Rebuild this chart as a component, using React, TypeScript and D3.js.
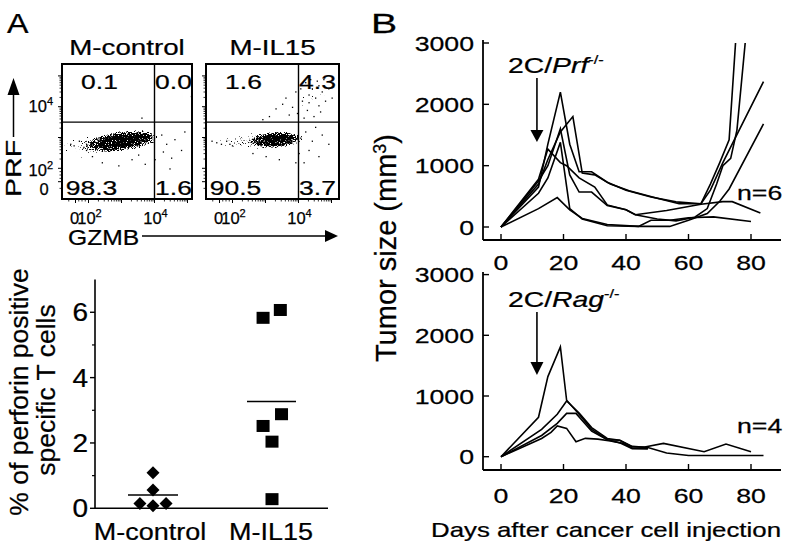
import React from 'react';
import * as d3 from 'd3';

const FONT = '"Liberation Sans", Arial, Helvetica, sans-serif';

// ---------- Panel A: flow cytometry ----------
const flowTitles = ['M-control', 'M-IL15'];
// quadrant percentages: UL, UR, LL, LR
const flowQuadrants = [
  ['0.1', '0.0', '98.3', '1.6'],
  ['1.6', '4.3', '90.5', '3.7'],
];
const gateGzmb = 4; // decade units
const gatePrf = 3.5;
// dense populations: centre (decade units), radii (decade units), tilt, weight
const ctrlClusters = [
  { gx: 3.1, gy: 2.9, rx: 1.2, ry: 0.33, tilt: -8, w: 1 },
  { gx: 2.3, gy: 2.78, rx: 1.8, ry: 0.48, tilt: -6, w: 0.64 },
];
const il15Clusters = [
  { gx: 3.35, gy: 2.93, rx: 0.82, ry: 0.27, tilt: -4, w: 1 },
  { gx: 2.6, gy: 2.88, rx: 1.55, ry: 0.38, tilt: -3, w: 0.62 },
  { gx: 4.35, gy: 4.35, rx: 0.75, ry: 0.7, tilt: 0, w: 0.52 },
];
const ctrlOutliers: [number, number][] = [
  [-0.8, 2.8], [-0.3, 2.75], [0.5, 2.9], [1.2, 2.7], [1.6, 2.6],
  [2.4, 2.2], [2.9, 2.1], [3.3, 2.3], [3.7, 2.15], [2.1, 2.4], [3.5, 2.45], [4.0, 2.3],
  [4.2, 3.1], [4.35, 2.8], [4.6, 2.95], [4.8, 2.6], [4.5, 2.35], [4.25, 2.55], [4.9, 3.2], [4.45, 2.0],
  [3.6, 3.65], [5.1, 4.35],
];
const il15Outliers: [number, number][] = [
  [4.2, 4.8], [4.4, 4.6], [4.6, 4.7], [4.3, 4.4], [4.5, 4.3], [4.7, 4.5], [4.1, 4.2], [3.9, 4.5],
  [4.8, 4.2], [4.35, 4.9], [4.05, 4.6], [4.6, 4.05], [4.25, 3.9], [3.8, 4.0], [3.6, 4.3], [3.7, 3.75],
  [4.9, 4.6], [4.45, 3.7], [4.15, 3.65], [3.95, 3.8], [4.55, 4.85], [4.75, 4.9], [4.3, 4.15], [3.5, 4.1],
  [4.65, 3.85], [5.0, 4.3], [3.1, 3.7], [3.3, 3.95], [2.9, 3.6],
  [4.2, 3.2], [4.4, 2.9], [4.7, 3.1], [4.3, 2.6], [4.6, 2.4], [4.9, 2.8], [4.15, 2.2], [4.5, 3.35], [4.05, 3.0],
  [3.4, 2.3], [3.9, 2.2], [3.0, 2.4], [4.0, 2.5], [2.6, 2.5],
  [0.2, 2.8], [-0.5, 2.85], [1.0, 2.9], [1.5, 2.8], [1.9, 2.75], [-1.2, 2.9],
];

// ---------- Panel A: perforin dot plot ----------
const dotCategories = ['M-control', 'M-IL15'];
const ctrlValues = [1.09, 0.56, 0.15, 0.08, 0.15];
const ctrlJitter = [0, 0, -0.11, 0, 0.11];
const il15Values = [6.07, 5.83, 2.88, 2.52, 2.04, 0.28];
const il15Jitter = [0.07, -0.075, 0.08, -0.075, 0, 0];
const dotTicks = [0, 2, 4, 6];
const dotMinorTicks = [1, 3, 5];

// ---------- Panel B: tumour growth ----------
type P = [number, number];
const prf1: P[] = [[0, 0], [12, 650], [15, 1350], [19, 2200], [22, 1350], [25, 900], [29, 900], [34, 730], [40, 600], [48, 490], [56, 410], [64, 380], [67, 700], [70, 1050], [73, 1420], [77, 4500]];
const prf2: P[] = [[0, 0], [12, 700], [15, 1100], [19, 1550], [23, 1800], [26, 880], [30, 850], [35, 700], [41, 590], [50, 470], [57, 380], [64, 380], [67, 600], [71, 1050], [84, 2370]];
const prf3: P[] = [[0, 0], [12, 750], [15, 1000], [19, 1600], [22, 850], [25, 570], [29, 570], [34, 350], [40, 280], [43, 200], [50, 130], [56, 100], [62, 160], [66, 300], [69, 700], [71, 1000], [73.5, 1120], [75.5, 1580], [80, 4000]];
const prf4: P[] = [[0, 0], [12, 550], [15, 800], [19, 1380], [22, 300], [26, 130], [34, 20], [44, 10], [54, 10], [60, 110], [66, 220], [70, 420], [73, 620], [84, 1680]];
const prf5: P[] = [[0, 0], [12, 780], [15, 1270], [19, 1050], [21, 1000], [25, 800], [30, 650], [34, 360], [40, 280], [43, 200], [53, 270], [64, 370], [71, 413], [74, 413], [83, 230]];
const prf6: P[] = [[0, 0], [12, 300], [18, 480], [22, 280], [26, 140], [34, 40], [44, 10], [48, 110], [54, 110], [60, 150], [68, 165], [80, 90]];
const rag1: P[] = [[0, 0], [12, 650], [15, 1320], [19, 1810], [21, 930], [25, 700], [29, 450], [34, 280], [38, 230], [42, 130], [47, 130]];
const rag2: P[] = [[0, 0], [13, 450], [18, 700], [21, 917], [25, 720], [29, 480], [34, 300], [38, 270], [42, 160], [46, 160], [52, 220], [65, 82], [72, 209], [80, 82]];
const rag3: P[] = [[0, 0], [13, 350], [18, 550], [21, 714], [24, 714], [29, 420], [34, 280], [38, 270], [42, 170], [47, 150], [53, 60], [60, 20], [84, 20]];
const rag4: P[] = [[0, 0], [13, 300], [16, 400], [18, 506], [21, 467], [24, 247], [27, 302], [31, 290], [35, 260], [39, 220], [42, 140], [47, 130]];
const prfSeries = [prf1, prf2, prf3, prf4, prf5, prf6];
const ragSeries = [rag1, rag2, rag3, rag4];
const bXTicks = [0, 20, 40, 60, 80];
const bYTicks = [0, 1000, 2000, 3000];
const injectionDay = 11.5;

function T({ x, y, fs, sx = 1, rot = 0, anchor = 'start', children, weight }: any) {
  return (
    <text
      transform={`translate(${x},${y}) rotate(${rot}) scale(${sx},1)`}
      fontSize={fs}
      fontFamily={FONT}
      textAnchor={anchor}
      fontWeight={weight}
      fill="#000"
      stroke="#000"
      strokeWidth={0.25}
    >
      {children}
    </text>
  );
}

function FlowPlot({ idx, x0, x1 }: { idx: number; x0: number; x1: number }) {
  const y0 = 64, y1 = 199;
  const gx = d3.scaleLinear().domain([-2, 0, 2, 4]).range([x0, x0 + 13.5, x0 + 26.5, x0 + 92.5]);
  const gy = d3.scaleLinear().domain([-2.6, 0, 2, 5]).range([y1, 181.7, 168.3, 75.9]);
  const clusters = idx === 0 ? ctrlClusters : il15Clusters;
  const outliers = idx === 0 ? ctrlOutliers : il15Outliers;
  const q = flowQuadrants[idx];
  const vx = gx(gateGzmb), hy = gy(gatePrf);
  const majors = [0, 2, 3, 4, 5];
  const minors: number[] = [-1, 0.5, 1, 1.5];
  for (const d of [2, 3, 4]) for (let k = 2; k <= 9; k++) minors.push(d + Math.log10(k));
  const xMaj = majors.filter((u) => gx(u) < x1 - 1);
  const xMin = minors.filter((u) => gx(u) < x1 - 1);
  const yMaj = majors.filter((u) => gy(u) > y0 + 1);
  const yMin = minors.filter((u) => gy(u) > y0 + 1);
  const slopeX = gx(3) - gx(2), slopeY = gy(2) - gy(3);
  return (
    <g>
      <defs>
        <clipPath id={`fclip${idx}`}>
          <rect x={x0} y={y0} width={x1 - x0} height={y1 - y0} />
        </clipPath>
      </defs>
      <g clipPath={`url(#fclip${idx})`}>
        <g filter="url(#speckle)">
          {clusters.map((c, i) => (
            <ellipse
              key={i}
              cx={0}
              cy={0}
              rx={c.rx * slopeX}
              ry={c.ry * slopeY}
              transform={`translate(${gx(c.gx)},${gy(c.gy)}) rotate(${c.tilt})`}
              fill="url(#dens)"
              fillOpacity={c.w}
            />
          ))}
        </g>
        {outliers.map((p, i) => (
          <rect key={i} x={gx(p[0])} y={gy(p[1])} width={1.3} height={1.3} fill="#000" />
        ))}
      </g>
      <line x1={vx} x2={vx} y1={y0} y2={y1} stroke="#000" strokeWidth={1.4} />
      <line x1={x0} x2={x1} y1={hy} y2={hy} stroke="#000" strokeWidth={1.4} />
      <rect x={x0} y={y0} width={x1 - x0} height={y1 - y0} fill="none" stroke="#000" strokeWidth={2} />
      {xMaj.map((u) => (
        <line key={'xm' + u} x1={gx(u)} x2={gx(u)} y1={y1} y2={y1 + 4} stroke="#000" strokeWidth={1} />
      ))}
      {xMin.map((u) => (
        <line key={'xn' + u} x1={gx(u)} x2={gx(u)} y1={y1} y2={y1 + 2.5} stroke="#000" strokeWidth={0.8} />
      ))}
      {yMaj.map((u) => (
        <line key={'ym' + u} x1={x0 - 4} x2={x0} y1={gy(u)} y2={gy(u)} stroke="#000" strokeWidth={1} />
      ))}
      {yMin.map((u) => (
        <line key={'yn' + u} x1={x0 - 2.5} x2={x0} y1={gy(u)} y2={gy(u)} stroke="#000" strokeWidth={0.8} />
      ))}
      <T x={(x0 + x1) / 2} y={55} fs={22} sx={1.26} anchor="middle">{flowTitles[idx]}</T>
      <T x={vx - 55} y={89} fs={21} sx={1.26} anchor="middle">{q[0]}</T>
      <T x={vx + 19} y={89} fs={21} sx={1.26} anchor="middle">{q[1]}</T>
      <T x={vx - 63} y={195} fs={21} sx={1.26} anchor="middle">{q[2]}</T>
      <T x={vx + 19} y={195} fs={21} sx={1.26} anchor="middle">{q[3]}</T>
      <T x={gx(0) - 1} y={224} fs={16.5} anchor="middle">0</T>
      <T x={gx(2) + 1} y={224} fs={16.5} anchor="middle">
        10<tspan dy={-7} fontSize={11}>2</tspan>
      </T>
      <T x={gx(4) + 1} y={224} fs={16.5} anchor="middle">
        10<tspan dy={-7} fontSize={11}>4</tspan>
      </T>
    </g>
  );
}

function DotPlot() {
  const y = d3.scaleLinear().domain([0, 7]).range([508.3, 279.6]);
  const xc = d3.scaleLinear().domain([0, 1]).range([153, 272]);
  const ax = 95;
  const ctrlMean = d3.mean(ctrlValues)!;
  const il15Mean = d3.mean(il15Values)!;
  return (
    <g>
      <line x1={ax} x2={ax} y1={y(7)} y2={y(0)} stroke="#000" strokeWidth={1.6} />
      <line x1={ax} x2={328} y1={y(0)} y2={y(0)} stroke="#000" strokeWidth={1.6} />
      {dotTicks.map((t) => (
        <g key={t}>
          <line x1={ax - 5} x2={ax} y1={y(t)} y2={y(t)} stroke="#000" strokeWidth={1.4} />
          <T x={88} y={y(t) + 9} fs={25} sx={1.12} anchor="end">{t}</T>
        </g>
      ))}
      {dotMinorTicks.map((t) => (
        <line key={t} x1={ax - 3} x2={ax} y1={y(t)} y2={y(t)} stroke="#000" strokeWidth={1.2} />
      ))}
      {dotCategories.map((c, i) => (
        <T key={c} x={xc(i) - (i === 0 ? 3 : 1)} y={540} fs={24.5} sx={1.1} anchor="middle">{c}</T>
      ))}
      <line x1={xc(0) - 25} x2={xc(0) + 25} y1={y(ctrlMean)} y2={y(ctrlMean)} stroke="#000" strokeWidth={1.6} />
      <line x1={xc(1) - 25} x2={xc(1) + 24} y1={y(il15Mean)} y2={y(il15Mean)} stroke="#000" strokeWidth={1.6} />
      {ctrlValues.map((v, i) => {
        const cx = xc(ctrlJitter[i]);
        const cy = y(v);
        return (
          <path key={i} d={`M${cx},${cy - 6.5}L${cx + 6.5},${cy}L${cx},${cy + 6.5}L${cx - 6.5},${cy}Z`} fill="#000" />
        );
      })}
      {il15Values.map((v, i) => {
        const cx = xc(1 + il15Jitter[i]);
        const cy = y(v);
        return <rect key={i} x={cx - 6.5} y={cy - 6} width={13} height={12} fill="#000" />;
      })}
      <T x={28} y={392} fs={26.5} rot={-90} anchor="middle">% of perforin positive</T>
      <T x={55} y={390} fs={26.5} rot={-90} anchor="middle">specific T cells</T>
    </g>
  );
}

function GrowthPanel({ series, yRange, axisTop, axisY, label, n, nY, arrow, labelY, tickLabelY, clipId }: any) {
  const x = d3.scaleLinear().domain([0, 80]).range([501, 751]);
  const y = d3.scaleLinear().domain([0, 3000]).range(yRange);
  const line = d3
    .line<P>()
    .x((d) => x(d[0]))
    .y((d) => y(d[1]));
  const ax = 483;
  const ix = x(injectionDay);
  return (
    <g>
      <defs>
        <clipPath id={clipId}>
          <rect x={ax} y={y(3000)} width={310} height={axisY - y(3000)} />
        </clipPath>
      </defs>
      <g clipPath={`url(#${clipId})`}>
        {series.map((s: P[], i: number) => (
          <path key={i} d={line(s)!} fill="none" stroke="#000" strokeWidth={1.6} strokeLinejoin="miter" />
        ))}
      </g>
      <line x1={ax} x2={ax} y1={axisTop} y2={axisY} stroke="#000" strokeWidth={1.8} />
      <line x1={ax} x2={781} y1={axisY} y2={axisY} stroke="#000" strokeWidth={1.8} />
      {bYTicks.map((t) => (
        <g key={t}>
          <line x1={ax} x2={ax + 6} y1={y(t)} y2={y(t)} stroke="#000" strokeWidth={1.4} />
          <T x={474} y={y(t) + 7.5} fs={21} sx={1.27} anchor="end">{t}</T>
        </g>
      ))}
      {bXTicks.map((t) => (
        <g key={t}>
          <line x1={x(t)} x2={x(t)} y1={axisY} y2={axisY - 6} stroke="#000" strokeWidth={1.4} />
          <T x={x(t)} y={tickLabelY} fs={21} sx={1.27} anchor="middle">{t}</T>
        </g>
      ))}
      <T x={508} y={labelY} fs={22.5} sx={1.26}>
        2C/<tspan fontStyle="italic">{label}</tspan>
        <tspan dy={-9} fontSize={13}>-/-</tspan>
      </T>
      <line x1={ix} x2={ix} y1={arrow[0]} y2={arrow[1]} stroke="#000" strokeWidth={1.6} />
      <path d={`M${ix - 6.5},${arrow[1] - 1}L${ix + 6.5},${arrow[1] - 1}L${ix},${arrow[2]}Z`} fill="#000" />
      <T x={737} y={nY} fs={21} sx={1.27}>{n}</T>
    </g>
  );
}

export default function App() {
  return (
    <svg
      width={796}
      height={549}
      viewBox="0 0 796 549"
      style={{ position: 'absolute', left: 0, top: 0, background: '#fff' }}
    >
      <defs>
        <radialGradient id="dens">
          <stop offset="0" stopColor="#000" stopOpacity={1} />
          <stop offset="0.55" stopColor="#000" stopOpacity={0.85} />
          <stop offset="1" stopColor="#000" stopOpacity={0.35} />
        </radialGradient>
        <filter
          id="speckle"
          x="0"
          y="0"
          width="796"
          height="549"
          filterUnits="userSpaceOnUse"
          colorInterpolationFilters="sRGB"
        >
          <feTurbulence type="fractalNoise" baseFrequency="0.87" numOctaves={2} seed={7} result="noise" />
          <feColorMatrix
            in="noise"
            type="matrix"
            values="0 0 0 0 0  0 0 0 0 0  0 0 0 0 0  1 0 0 0 0"
            result="na"
          />
          <feComposite in="na" in2="SourceAlpha" operator="arithmetic" k1={0} k2={10} k3={10} k4={-12.1} result="mask" />
          <feFlood floodColor="#000" result="blk" />
          <feComposite in="blk" in2="mask" operator="in" />
        </filter>
      </defs>
      <rect x={0} y={0} width={796} height={549} fill="#fff" />

      {/* Panel letters */}
      <T x={7} y={33} fs={28} sx={1.15}>A</T>
      <T x={371} y={33} fs={28} sx={1.4}>B</T>

      {/* Flow plots */}
      <FlowPlot idx={0} x0={62} x1={192} />
      <FlowPlot idx={1} x0={206} x1={339} />
      <T x={53} y={112} fs={16.5} anchor="end">
        10<tspan dy={-7} fontSize={11}>4</tspan>
      </T>
      <T x={53} y={176} fs={16.5} anchor="end">
        10<tspan dy={-7} fontSize={11}>2</tspan>
      </T>
      <T x={44} y={195} fs={16.5} anchor="middle">0</T>
      {/* PRF axis label with arrow */}
      <T x={21} y={197} fs={22} sx={1.3} rot={-90}>PRF</T>
      <line x1={13.5} x2={13.5} y1={137} y2={92} stroke="#000" strokeWidth={1.5} />
      <path d="M7.5,95L19.5,95L13.5,78Z" fill="#000" />
      {/* GZMB axis label with arrow */}
      <T x={68} y={245} fs={22} sx={1.12}>GZMB</T>
      <line x1={142} x2={327} y1={236} y2={236} stroke="#000" strokeWidth={1.5} />
      <path d="M325,230L325,242L338,236Z" fill="#000" />

      <DotPlot />

      {/* Panel B */}
      <GrowthPanel
        series={prfSeries}
        yRange={[227, 43]}
        axisTop={40}
        axisY={240}
        label="Prf"
        n="n=6"
        nY={200}
        arrow={[78, 131, 142]}
        labelY={73}
        tickLabelY={270}
        clipId="clipTop"
      />
      <GrowthPanel
        series={ragSeries}
        yRange={[456.7, 274.6]}
        axisTop={272}
        axisY={470}
        label="Rag"
        n="n=4"
        nY={433}
        arrow={[312, 363, 375]}
        labelY={307}
        tickLabelY={503}
        clipId="clipBot"
      />
      <T x={396} y={248} fs={29} rot={-90} anchor="middle">
        Tumor size (mm<tspan dy={-10} fontSize={18}>3</tspan>
        <tspan dy={10}>)</tspan>
      </T>
      <T x={431} y={537} fs={20.5} sx={1.26}>Days after cancer cell injection</T>
    </svg>
  );
}
